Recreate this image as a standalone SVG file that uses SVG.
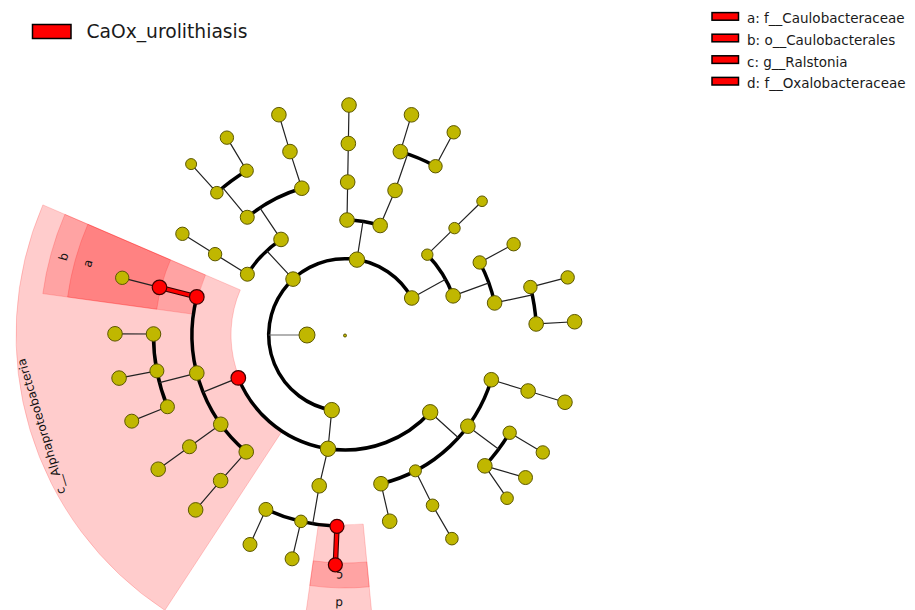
<svg xmlns="http://www.w3.org/2000/svg" width="915" height="610" viewBox="0 0 915 610">
<style>
.sec{fill:#ff0000;fill-opacity:0.2;stroke:#ff0000;stroke-opacity:0.18;stroke-width:1}
.lab{font-family:"DejaVu Sans","Liberation Sans",sans-serif;font-size:12px;fill:#111;text-anchor:middle;dominant-baseline:central}
.thick{fill:none;stroke:#000;stroke-width:3.5}
.thin{fill:none;stroke:#222;stroke-width:1.2}
.rl1{stroke:#300;stroke-width:5.5}
.rl2{stroke:#f00;stroke-width:3.3}
.nd{fill:#c0b700;stroke:#5c5700;stroke-width:1}
.rd{fill:#ff0000;stroke:#400000;stroke-width:1.2}
.leg{font-family:"DejaVu Sans","Liberation Sans",sans-serif;fill:#1a1a1a}
.lr{fill:#ff0000;stroke:#000;stroke-width:1.5}
</style>
<g id="highlights">
<g id="sec-class"><path class="sec" d="M282.57,430.4 L164.84,610.31 A329,329 0 0 1 42.85,204.88 L240.3,289.91 A114,114 0 0 0 282.57,430.4 Z"/>
<text class="lab" transform="translate(41.44,426.36) rotate(-106.75)">c__Alphaproteobacteria</text></g>
<g id="sec-b"><path class="sec" d="M194.41,314.37 L42.84,293.61 A305,305 0 0 1 64.89,214.37 L205.4,274.88 A152,152 0 0 0 194.41,314.37 Z"/>
<text class="lab" transform="translate(63.69,256.71) rotate(-74.45)">b</text></g>
<g id="sec-a"><path class="sec" d="M156.77,309.22 L67.6,297 A280,280 0 0 1 87.85,224.26 L170.5,259.85 A190,190 0 0 0 156.77,309.22 Z"/>
<text class="lab" transform="translate(87.77,263.42) rotate(-74.45)">a</text></g>
<g id="sec-d"><path class="sec" d="M363.2,524.13 L371.82,613.71 A280,280 0 0 1 306.02,612.28 L318.55,523.16 A190,190 0 0 0 363.2,524.13 Z"/>
<text class="lab" transform="translate(339.18,603.5) rotate(181.25)">d</text></g>
<g id="sec-c"><path class="sec" d="M366.84,561.95 L369.24,586.84 A253,253 0 0 1 309.78,585.54 L313.26,560.79 A228,228 0 0 0 366.84,561.95 Z"/>
<text class="lab" transform="translate(339.74,575.94) rotate(181.25)">c</text></g>
</g>
<g id="connectors">
<path class="thick" d="M331.75,410.14 A76.3,76.3 0 1 1 411.73,298.01"/>
<path class="thick" d="M247.36,274.23 A115,115 0 0 1 281.03,239.43"/>
<path class="thick" d="M247.26,217.28 A153,153 0 0 1 301.81,188.23"/>
<path class="thick" d="M216.87,192.7 A191.5,191.5 0 0 1 246.66,170.67"/>
<path class="thick" d="M347.01,220.02 A115,115 0 0 1 380.16,225.51"/>
<path class="thick" d="M400.34,151.68 A191.5,191.5 0 0 1 435.5,166.23"/>
<path class="thick" d="M427.31,254.68 A115,115 0 0 1 453.13,295.85"/>
<path class="thick" d="M479.72,262.46 A153,153 0 0 1 494.6,302.93"/>
<path class="thick" d="M530.39,287.05 A191.5,191.5 0 0 1 536.17,323.97"/>
<path class="thick" d="M430.19,412.25 A115,115 0 0 1 238.3,377.9"/>
<path class="thick" d="M336.98,526.33 A191.5,191.5 0 0 1 265.89,509.4"/>
<path class="thick" d="M491.31,379.74 A153,153 0 0 1 380.97,483.72"/>
<path class="thick" d="M509.67,432.76 A191.5,191.5 0 0 1 484.83,465.85"/>
<path class="thick" d="M246.24,451.86 A153,153 0 0 1 196.8,296.95"/>
<path class="thick" d="M167.44,406.74 A191.5,191.5 0 0 1 153.5,334"/>
<path class="thin" style="stroke:#666" d="M307,335 L268.7,335"/>
<path class="thin" d="M293.06,279.11 L266.72,250.76 M247.36,274.23 L215.1,254.15 L182.42,233.81 M281.03,239.43 L259.89,207.86 M301.81,188.23 L289.96,151.58 L278.9,114.71 M247.26,217.28 L222.67,187.66 M216.87,192.7 L191.11,164.09 M246.66,170.67 L226.89,137.64"/>
<path class="thin" d="M356.93,259.64 L362.99,221.41 M347.01,220.02 L347.67,182.02 L348.34,143.53 L349.01,105.03 M380.16,225.51 L395.06,190.43 L407.66,154.05 M400.34,151.68 L411.47,114.82 M435.5,166.23 L453.7,132.3"/>
<path class="thin" d="M411.73,298.01 L445.58,279.25 M427.31,254.68 L454.5,228.14 L482.06,201.26 M453.13,295.85 L488.87,282.92 M479.72,262.46 L513.62,244.21 M494.6,302.93 L532.25,294.86 M530.39,287.05 L567.66,277.41 M536.17,323.97 L574.61,321.75"/>
<path class="thin" d="M331.75,410.14 L328,448.74 L319.22,485.81 L312.73,523.76 M300.95,521.37 L292.1,558.84 M265.89,509.4 L249.99,544.46"/>
<path class="thin" d="M430.19,412.25 L458.34,437.77 M491.31,379.74 L528.13,390.99 L564.95,402.25 M467.83,426.22 L498.74,449.17 M509.67,432.76 L542.78,452.42 M484.83,465.85 L525.5,477.55 M484.83,465.85 L507.06,498.21 M415.41,470.83 L432.53,505.32 L451.9,538.64 M380.97,483.72 L389.7,521.21"/>
<path class="thin" d="M238.3,377.9 L203.05,392.07 M246.24,451.86 L220.64,480.62 L195.64,509.89 M220.75,424.28 L189.48,446.74 L158.22,469.21 M196.8,373.05 L159.51,382.63 M167.44,406.74 L131.74,421.16 M156.89,370.89 L119.07,378.1 M153.5,334 L115,333.8 M159.51,287.37 L122.22,277.8"/>
<path class="rl1" d="M196.8,296.95 L159.51,287.37 M336.98,526.33 L335.36,564.79"/>
<path class="rl2" d="M196.8,296.95 L159.51,287.37 M336.98,526.33 L335.36,564.79"/>
</g>
<g id="nodes">
<g id="n-root"><circle class="nd" cx="345" cy="335.5" r="1.5"/></g>
<g id="n-K"><circle class="nd" cx="307" cy="335" r="8"/></g>
<g id="n-P1"><circle class="nd" cx="293.06" cy="279.11" r="7.3"/></g>
<g id="n-P2"><circle class="nd" cx="356.93" cy="259.64" r="7.7"/></g>
<g id="n-P3"><circle class="nd" cx="411.73" cy="298.01" r="7.3"/></g>
<g id="n-P4"><circle class="nd" cx="331.75" cy="410.14" r="7.7"/></g>
<g id="n-A1"><circle class="nd" cx="281.03" cy="239.43" r="7.3"/></g>
<g id="n-A2"><circle class="nd" cx="247.36" cy="274.23" r="7"/></g>
<g id="n-A2a"><circle class="nd" cx="215.1" cy="254.15" r="6.7"/></g>
<g id="n-A2b"><circle class="nd" cx="182.42" cy="233.81" r="6.7"/></g>
<g id="n-A1a"><circle class="nd" cx="247.26" cy="217.28" r="7"/></g>
<g id="n-A1b"><circle class="nd" cx="301.81" cy="188.23" r="7.3"/></g>
<g id="n-A1b1"><circle class="nd" cx="289.96" cy="151.58" r="7.3"/></g>
<g id="n-A1b2"><circle class="nd" cx="278.9" cy="114.71" r="7.3"/></g>
<g id="n-A1a1"><circle class="nd" cx="216.87" cy="192.7" r="6.3"/></g>
<g id="n-A1a2"><circle class="nd" cx="246.66" cy="170.67" r="6.7"/></g>
<g id="n-A1a1a"><circle class="nd" cx="191.11" cy="164.09" r="5.5"/></g>
<g id="n-A1a2a"><circle class="nd" cx="226.89" cy="137.64" r="6.7"/></g>
<g id="n-B1"><circle class="nd" cx="347.01" cy="220.02" r="7.3"/></g>
<g id="n-B1a"><circle class="nd" cx="347.67" cy="182.02" r="7.3"/></g>
<g id="n-B1b"><circle class="nd" cx="348.34" cy="143.53" r="7.3"/></g>
<g id="n-B1c"><circle class="nd" cx="349.01" cy="105.03" r="7.3"/></g>
<g id="n-B2"><circle class="nd" cx="380.16" cy="225.51" r="7.3"/></g>
<g id="n-B2a"><circle class="nd" cx="395.06" cy="190.43" r="7.3"/></g>
<g id="n-B2a1"><circle class="nd" cx="400.34" cy="151.68" r="7.3"/></g>
<g id="n-B2a2"><circle class="nd" cx="435.5" cy="166.23" r="6.7"/></g>
<g id="n-B2a1a"><circle class="nd" cx="411.47" cy="114.82" r="7.3"/></g>
<g id="n-B2a2a"><circle class="nd" cx="453.7" cy="132.3" r="6.7"/></g>
<g id="n-C1"><circle class="nd" cx="427.31" cy="254.68" r="5.7"/></g>
<g id="n-C1a"><circle class="nd" cx="454.5" cy="228.14" r="5.7"/></g>
<g id="n-C1b"><circle class="nd" cx="482.06" cy="201.26" r="5.3"/></g>
<g id="n-C2"><circle class="nd" cx="453.13" cy="295.85" r="7.3"/></g>
<g id="n-C2a"><circle class="nd" cx="479.72" cy="262.46" r="6.7"/></g>
<g id="n-C2b"><circle class="nd" cx="494.6" cy="302.93" r="7.3"/></g>
<g id="n-C2a1"><circle class="nd" cx="513.62" cy="244.21" r="6.7"/></g>
<g id="n-C2b1"><circle class="nd" cx="530.39" cy="287.05" r="6.7"/></g>
<g id="n-C2b2"><circle class="nd" cx="536.17" cy="323.97" r="7.3"/></g>
<g id="n-C2b1a"><circle class="nd" cx="567.66" cy="277.41" r="6.7"/></g>
<g id="n-C2b2a"><circle class="nd" cx="574.61" cy="321.75" r="7.3"/></g>
<g id="n-D1"><circle class="nd" cx="430.19" cy="412.25" r="7.7"/></g>
<g id="n-D1a"><circle class="nd" cx="491.31" cy="379.74" r="7.3"/></g>
<g id="n-D1a1"><circle class="nd" cx="528.13" cy="390.99" r="7.3"/></g>
<g id="n-D1a2"><circle class="nd" cx="564.95" cy="402.25" r="7.3"/></g>
<g id="n-D1b"><circle class="nd" cx="467.83" cy="426.22" r="7.3"/></g>
<g id="n-D1b1"><circle class="nd" cx="509.67" cy="432.76" r="6.7"/></g>
<g id="n-D1b1a"><circle class="nd" cx="542.78" cy="452.42" r="6.7"/></g>
<g id="n-D1b2"><circle class="nd" cx="484.83" cy="465.85" r="7.3"/></g>
<g id="n-D1b2a"><circle class="nd" cx="525.5" cy="477.55" r="7"/></g>
<g id="n-D1b2b"><circle class="nd" cx="507.06" cy="498.21" r="6.3"/></g>
<g id="n-D1c"><circle class="nd" cx="415.41" cy="470.83" r="6"/></g>
<g id="n-D1c1"><circle class="nd" cx="432.53" cy="505.32" r="6.3"/></g>
<g id="n-D1c2"><circle class="nd" cx="451.9" cy="538.64" r="6.3"/></g>
<g id="n-D1d"><circle class="nd" cx="380.97" cy="483.72" r="7.3"/></g>
<g id="n-D1d1"><circle class="nd" cx="389.7" cy="521.21" r="7.3"/></g>
<g id="n-D2"><circle class="nd" cx="328" cy="448.74" r="7.7"/></g>
<g id="n-D2a"><circle class="nd" cx="319.22" cy="485.81" r="7.3"/></g>
<g id="n-D2a1"><circle class="rd" cx="336.98" cy="526.33" r="7"/></g>
<g id="n-D2a1a"><circle class="rd" cx="335.36" cy="564.79" r="7"/></g>
<g id="n-D2a2"><circle class="nd" cx="300.95" cy="521.37" r="6.3"/></g>
<g id="n-D2a2a"><circle class="nd" cx="292.1" cy="558.84" r="7"/></g>
<g id="n-D2a3"><circle class="nd" cx="265.89" cy="509.4" r="7"/></g>
<g id="n-D2a3a"><circle class="nd" cx="249.99" cy="544.46" r="7"/></g>
<g id="n-D3"><circle class="rd" cx="238.3" cy="377.9" r="7.3"/></g>
<g id="n-D3a"><circle class="nd" cx="246.24" cy="451.86" r="7.3"/></g>
<g id="n-D3a1"><circle class="nd" cx="220.64" cy="480.62" r="7.3"/></g>
<g id="n-D3a2"><circle class="nd" cx="195.64" cy="509.89" r="7.3"/></g>
<g id="n-D3b"><circle class="nd" cx="220.75" cy="424.28" r="7.3"/></g>
<g id="n-D3b1"><circle class="nd" cx="189.48" cy="446.74" r="7"/></g>
<g id="n-D3b2"><circle class="nd" cx="158.22" cy="469.21" r="7.3"/></g>
<g id="n-D3c"><circle class="nd" cx="196.8" cy="373.05" r="7.3"/></g>
<g id="n-D3c1"><circle class="nd" cx="167.44" cy="406.74" r="7"/></g>
<g id="n-D3c2"><circle class="nd" cx="156.89" cy="370.89" r="7"/></g>
<g id="n-D3c3"><circle class="nd" cx="153.5" cy="334" r="7.3"/></g>
<g id="n-D3c1a"><circle class="nd" cx="131.74" cy="421.16" r="7"/></g>
<g id="n-D3c2a"><circle class="nd" cx="119.07" cy="378.1" r="7.3"/></g>
<g id="n-D3c3a"><circle class="nd" cx="115" cy="333.8" r="7.3"/></g>
<g id="n-D3d"><circle class="rd" cx="196.8" cy="296.95" r="7.3"/></g>
<g id="n-D3d1"><circle class="rd" cx="159.51" cy="287.37" r="7.3"/></g>
<g id="n-D3d1a"><circle class="nd" cx="122.22" cy="277.8" r="6.7"/></g>
</g>
<g id="legend-class">
<rect class="lr" x="32.5" y="24.5" width="38.5" height="14"/>
<text class="leg" x="86.5" y="37.5" font-size="18.7">CaOx_urolithiasis</text>
</g>
<g id="legend-clades">
<rect class="lr" x="712" y="12.6" width="26.5" height="7.6"/>
<text class="leg" x="747" y="23.4" font-size="13.5">a: f__Caulobacteraceae</text>
<rect class="lr" x="712" y="34.2" width="26.5" height="7.6"/>
<text class="leg" x="747" y="45" font-size="13.5">b: o__Caulobacterales</text>
<rect class="lr" x="712" y="55.8" width="26.5" height="7.6"/>
<text class="leg" x="747" y="66.6" font-size="13.5">c: g__Ralstonia</text>
<rect class="lr" x="712" y="77.4" width="26.5" height="7.6"/>
<text class="leg" x="747" y="88.2" font-size="13.5">d: f__Oxalobacteraceae</text>
</g>
</svg>
